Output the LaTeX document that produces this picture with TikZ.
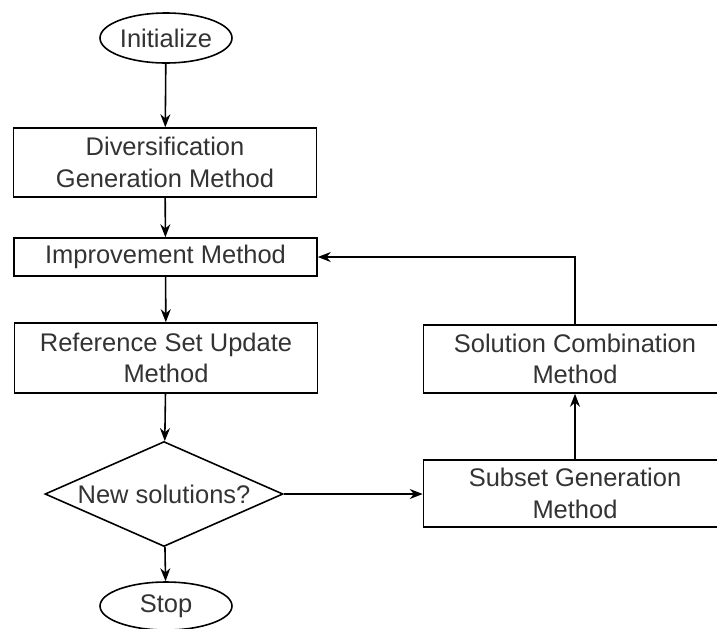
\documentclass[tikz,border=0pt]{standalone}
\usepackage{fontspec}
\setmainfont{Liberation Sans}
\usetikzlibrary{positioning}
\usetikzlibrary{shapes.geometric}
\usetikzlibrary{arrows.meta}
\tikzset{
    % Arrow shape for all connectors
    >={Stealth[length=2.6mm, width=2mm]},
%
    % Text colour used in every box
    flow text/.style={text=black!80, align=center,
        font=\fontsize{14.5}{18}\selectfont}}

\begin{document}
\begin{tikzpicture}[x=0.2mm, y=-0.2mm, line width=0.9pt,
    terminal/.style={draw, ellipse, flow text, inner sep=0,
        minimum width=26.4mm, minimum height=10mm},
    method/.style={draw, flow text, inner sep=0, minimum width=60.6mm},
    decision/.style={draw, diamond, flow text, inner sep=0, aspect=2.27,
        minimum width=47.6mm, minimum height=21mm}]
\useasboundingbox (0,0) rectangle (717,628);

% Main column: initialization down to the test
\node[terminal] at (166,38) (init) {Initialize};
\node[method, minimum height=13.8mm] at (165,162.5) (divers)
    {Diversification\\Generation Method};
\node[method, minimum height=7.6mm] at (165.5,257) (improve)
    {Improvement Method};
\node[method, minimum height=14mm] at (166,358) (refset)
    {Reference Set Update\\Method};
\node[decision] at (164,494) (decide) {New solutions?};
\node[terminal, minimum height=9.6mm] at (166,606) (stop) {Stop};

% Right column: subset generation and combination
\node[method, minimum height=13.4mm] at (575,493.5) (subset)
    {Subset Generation\\Method};
\node[method, minimum height=13.6mm] at (575,359) (combine)
    {Solution Combination\\Method};

\draw[->] (init) -- (divers);
\draw[->] (divers) -- (improve);
\draw[->] (improve) -- (refset);
\draw[->] (refset) -- (decide);
\draw[->] (decide) -- (stop);
\draw[->] (decide.east) -- (subset.west |- decide.east);
\draw[->] (subset) -- (combine);
\draw[->] (combine.north) |- (improve.east);
\end{tikzpicture}
\end{document}
